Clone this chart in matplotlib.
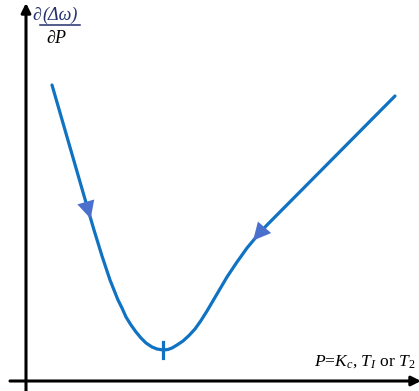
import matplotlib.pyplot as plt
import numpy as np

# sensitivity curve, traced in pixel units (x to the right, y downward)
curve_x = [52, 89, 94, 98, 102, 106, 110, 114, 118, 122, 126, 131, 136, 141,
           146, 152, 157, 163, 168, 172, 177, 183, 189, 195, 201, 207, 212,
           217, 222, 227, 232, 237, 242, 247, 252, 257, 262, 267, 395]
curve_y = [85, 213, 230, 243, 256, 268, 280, 290, 300, 308, 317, 325, 332,
           338, 343, 347, 349, 350, 349.5, 348, 345, 341, 335.5, 329, 320.5,
           311, 302.5, 294, 285.5, 277, 269.5, 262, 255, 248, 242, 236, 230.5,
           225, 96]
arrow_idx = [1, 35]      # points where the direction arrows sit
arrow_dir = [1, -1]      # +1 along the trace, -1 against it
min_idx = 17             # the optimum, marked with a tick

line_col = '#0f72c2'
arrow_col = '#4a6fcc'

plt.rcParams['mathtext.fontset'] = 'custom'
plt.rcParams['mathtext.rm'] = 'Liberation Serif'
plt.rcParams['mathtext.it'] = 'Liberation Serif:italic'

fig = plt.figure(figsize=(4.19, 3.91), dpi=100)
ax = fig.add_axes([0, 0, 1, 1])
ax.set_xlim(0, 419)
ax.set_ylim(391, 0)
ax.axis('off')

# axes with arrow heads
ax.annotate('', xy=(26, 3), xytext=(26, 392), annotation_clip=False,
            arrowprops=dict(arrowstyle='-|>', color='black', lw=2.2,
                            mutation_scale=14, shrinkA=0, shrinkB=0))
ax.annotate('', xy=(421, 381), xytext=(10, 381), annotation_clip=False,
            arrowprops=dict(arrowstyle='-|>', color='black', lw=2.2,
                            mutation_scale=14, shrinkA=0, shrinkB=0))

ax.plot(curve_x, curve_y, color=line_col, lw=2.3, solid_capstyle='round',
        solid_joinstyle='round')

for i, s in zip(arrow_idx, arrow_dir):
    dx = (curve_x[i + 1] - curve_x[i - 1]) * s
    dy = (curve_y[i + 1] - curve_y[i - 1]) * s
    d = np.hypot(dx, dy)
    tip = (curve_x[i] + dx / d * 6, curve_y[i] + dy / d * 6)
    tail = (curve_x[i] - dx / d * 7, curve_y[i] - dy / d * 7)
    ax.annotate('', xy=tip, xytext=tail,
                arrowprops=dict(arrowstyle='-|>,head_length=0.9,head_width=0.45',
                                color=arrow_col, lw=0, mutation_scale=14,
                                shrinkA=0, shrinkB=0))

ax.plot([curve_x[min_idx]] * 2, [curve_y[min_idx] - 8, curve_y[min_idx] + 8],
        color=line_col, lw=2.3)

# y label as a partial-derivative fraction
serif = 'Liberation Serif'
navy = '#22306e'
ax.text(32, 20, '\u2202', fontsize=13, family=serif, style='italic',
        color=navy, va='baseline')
ax.text(42, 20, '(\u0394\u03c9)', fontsize=13, family=serif, style='italic',
        color=navy, va='baseline')
ax.plot([40, 80], [24.5, 24.5], color=navy, lw=1.1)
ax.text(57, 43, '\u2202$P$', fontsize=13, family=serif, ha='center',
        va='baseline')

ax.text(314, 366, '$P$=$K_c$, $T_I$ or $T_2$', fontsize=12.6, family=serif,
        va='baseline')

fig.savefig('out.png', dpi=100)
